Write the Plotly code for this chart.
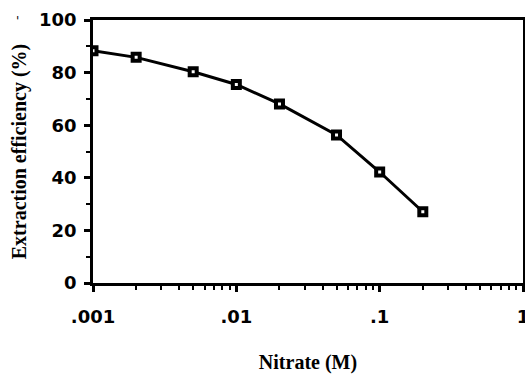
import plotly.graph_objects as go

nitrate_M = [0.001, 0.002, 0.005, 0.01, 0.02, 0.05, 0.1, 0.2]
efficiency_pct = [88.3, 85.8, 80.3, 75.5, 68.1, 56.3, 42.2, 27.1]

x_tickvals = [0.001, 0.01, 0.1, 1]
x_ticktext = [".001", ".01", ".1", "1"]
x_minor = [m * d for d in [0.001, 0.01, 0.1] for m in range(2, 10)]
y_tickvals = [0, 20, 40, 60, 80, 100]

fig = go.Figure()
fig.add_trace(go.Scatter(
    x=nitrate_M, y=efficiency_pct, mode="lines+markers",
    line=dict(color="black", width=3),
    marker=dict(symbol="square", size=7, color="white",
                line=dict(color="black", width=4)),
    showlegend=False,
))

tick_font = dict(family="DejaVu Sans", size=18, color="black", weight="bold")
title_font = dict(family="Liberation Serif", size=20, color="black", weight="bold")

fig.update_layout(
    width=525, height=374,
    margin=dict(l=93, r=2, t=20, b=91, autoexpand=False),
    paper_bgcolor="white", plot_bgcolor="white",
    xaxis=dict(
        type="log", range=[-3, 0], automargin=False,
        tickmode="array", tickvals=x_tickvals, ticktext=x_ticktext,
        ticks="outside", ticklen=6, tickwidth=2.5, tickcolor="black",
        minor=dict(tickmode="array", tickvals=x_minor, ticks="outside",
                   ticklen=4, tickwidth=2, tickcolor="black", showgrid=False),
        showline=True, linecolor="black", linewidth=2.5, mirror=True,
        showgrid=False, zeroline=False,
        tickfont=tick_font, ticklabelstandoff=10, ticklabeloverflow="allow",
        title=dict(text="Nitrate (M)", font=title_font, standoff=30),
    ),
    yaxis=dict(
        range=[0, 100], automargin=False,
        tickmode="array", tickvals=y_tickvals,
        ticks="outside", ticklen=6, tickwidth=2.5, tickcolor="black",
        minor=dict(dtick=10, ticks="outside", ticklen=4, tickwidth=2,
                   tickcolor="black", showgrid=False),
        showline=True, linecolor="black", linewidth=2.5, mirror=True,
        showgrid=False, zeroline=False,
        tickfont=tick_font, ticklabelstandoff=4,
        title=dict(text="Extraction efficiency (%)", font=title_font, standoff=8),
    ),
    annotations=[dict(text="'", x=-0.184, y=1.03, xref="paper", yref="paper",
                      showarrow=False, font=dict(family="DejaVu Sans", size=12,
                                                 color="black"))],
)

fig.write_html("out.html")
